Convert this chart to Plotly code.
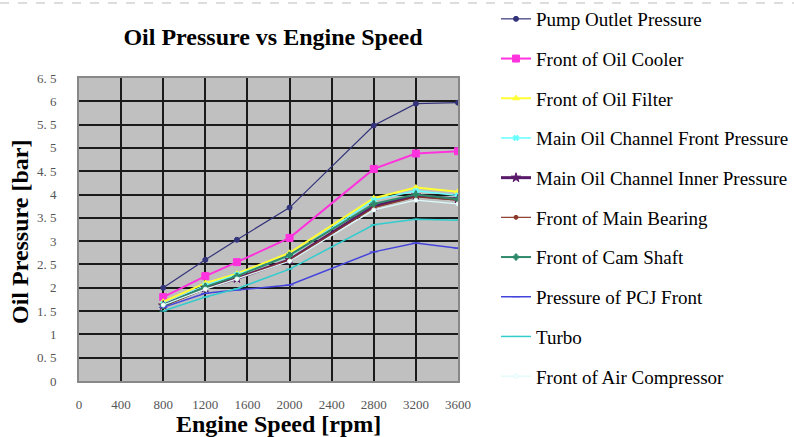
import plotly.graph_objects as go

engine_speed = [800, 1200, 1500, 2000, 2800, 3200, 3600]

pump_outlet = [2.0, 2.6, 3.03, 3.72, 5.48, 5.95, 5.97]
oil_cooler = [1.8, 2.25, 2.55, 3.07, 4.55, 4.88, 4.93]
oil_filter = [1.7, 2.1, 2.3, 2.75, 3.92, 4.15, 4.06]
main_front = [1.65, 2.05, 2.28, 2.68, 3.88, 4.08, 3.98]
main_inner = [1.62, 2.0, 2.2, 2.6, 3.75, 3.98, 3.9]
main_bearing = [1.6, 1.98, 2.2, 2.6, 3.72, 3.95, 3.88]
cam_shaft = [1.62, 2.02, 2.25, 2.7, 3.8, 4.0, 3.9]
pcj_front = [1.58, 1.88, 1.95, 2.06, 2.77, 2.96, 2.85]
turbo = [1.5, 1.8, 1.98, 2.4, 3.35, 3.47, 3.45]
air_compressor = [1.63, 1.97, 2.19, 2.57, 3.67, 3.88, 3.8]

series_names = [
    "Pump Outlet Pressure", "Front of Oil Cooler", "Front of Oil Filter",
    "Main Oil Channel Front Pressure", "Main Oil Channel Inner Pressure",
    "Front of Main Bearing", "Front of Cam Shaft", "Pressure of PCJ Front",
    "Turbo", "Front of Air Compressor",
]
series_values = [pump_outlet, oil_cooler, oil_filter, main_front, main_inner,
                 main_bearing, cam_shaft, pcj_front, turbo, air_compressor]

x_ticks = [0, 400, 800, 1200, 1600, 2000, 2400, 2800, 3200, 3600]
y_ticks = [0, 0.5, 1, 1.5, 2, 2.5, 3, 3.5, 4, 4.5, 5, 5.5, 6, 6.5]
y_tick_text = ["0", "0. 5", "1", "1. 5", "2", "2. 5", "3", "3. 5", "4", "4. 5",
               "5", "5. 5", "6", "6. 5"]

styles = [
    dict(color="#33337a", width=1.2, symbol="circle", msize=5),
    dict(color="#ff33dd", width=2, symbol="square", msize=7),
    dict(color="#ffff33", width=2, symbol="triangle-up", msize=6),
    dict(color="#66ffff", width=1.5, symbol="x", msize=5),
    dict(color="#5a1a6a", width=3, symbol="star", msize=7),
    dict(color="#8a3a2a", width=1.2, symbol="circle", msize=4),
    dict(color="#2f8a6a", width=2, symbol="cross", msize=5),
    dict(color="#4444dd", width=1.5, symbol="line-ew-open", msize=6),
    dict(color="#33cccc", width=1.5, symbol="line-ew-open", msize=5),
    dict(color="#ddfafa", width=1.2, symbol="circle", msize=4),
]

fig = go.Figure()
for i in range(len(series_names)):
    s = styles[i]
    fig.add_trace(go.Scatter(
        x=engine_speed, y=series_values[i], name=series_names[i],
        mode="lines+markers",
        line=dict(color=s["color"], width=s["width"]),
        marker=dict(color=s["color"] if i != 9 else "#ffffff", symbol=s["symbol"],
                    size=s["msize"], line=dict(color=s["color"], width=1)),
        legendgroup=str(i), legendrank=i,
    ))

serif = "Liberation Serif, Times New Roman, serif"

fig.update_layout(
    width=794, height=437,
    margin=dict(l=79, r=336, t=78, b=56),
    paper_bgcolor="white", plot_bgcolor="#c0c0c0",
    title=dict(text="<b>Oil Pressure vs Engine Speed</b>", x=273 / 794, xanchor="center",
               y=1 - 37 / 437, yanchor="middle", xref="container", yref="container",
               font=dict(family=serif, size=24, color="black")),
    font=dict(family=serif),
    legend=dict(xref="container", yref="container", x=496 / 794, y=1 - 0 / 437,
                xanchor="left", yanchor="top", tracegroupgap=12, maxheight=437,
                font=dict(family=serif, size=19, color="black"),
                bgcolor="rgba(0,0,0,0)"),
    showlegend=True,
)
fig.update_xaxes(
    range=[0, 3600], tickvals=x_ticks, ticktext=[str(v) for v in x_ticks],
    showgrid=True, gridcolor="#1a1a1a", gridwidth=2, zeroline=False,
    showline=True, linecolor="#888888", linewidth=2, mirror=True,
    ticks="", ticklabelstandoff=10,
    tickfont=dict(family=serif, size=13, color="#555555"),
)
fig.update_yaxes(
    range=[0, 6.5], tickvals=y_ticks, ticktext=y_tick_text,
    showgrid=True, gridcolor="#1a1a1a", gridwidth=2, zeroline=False,
    showline=True, linecolor="#888888", linewidth=2, mirror=True,
    ticks="", ticklabelstandoff=18,
    tickfont=dict(family=serif, size=13, color="#555555"),
)
fig.add_annotation(text="<b>Engine Speed [rpm]</b>", xref="paper", yref="paper",
                   x=(278 - 79) / 379, y=-(424 - 381) / 303, xanchor="center", yanchor="middle",
                   showarrow=False, font=dict(family=serif, size=24, color="black"))
fig.add_annotation(text="<b>Oil Pressure [bar]</b>", xref="paper", yref="paper",
                   x=-(79 - 20) / 379, y=(381 - 232) / 303, xanchor="center", yanchor="middle",
                   textangle=-90, showarrow=False,
                   font=dict(family=serif, size=24, color="black"))
fig.add_shape(type="line", xref="paper", yref="paper", x0=-79 / 379, x1=(794 - 79) / 379,
              y0=1 + 75 / 303, y1=1 + 75 / 303, line=dict(color="#bbbbbb", width=1, dash="dash"))

fig.write_html("out.html", config={"displayModeBar": False},
               post_script="document.body.style.margin='0px';")
